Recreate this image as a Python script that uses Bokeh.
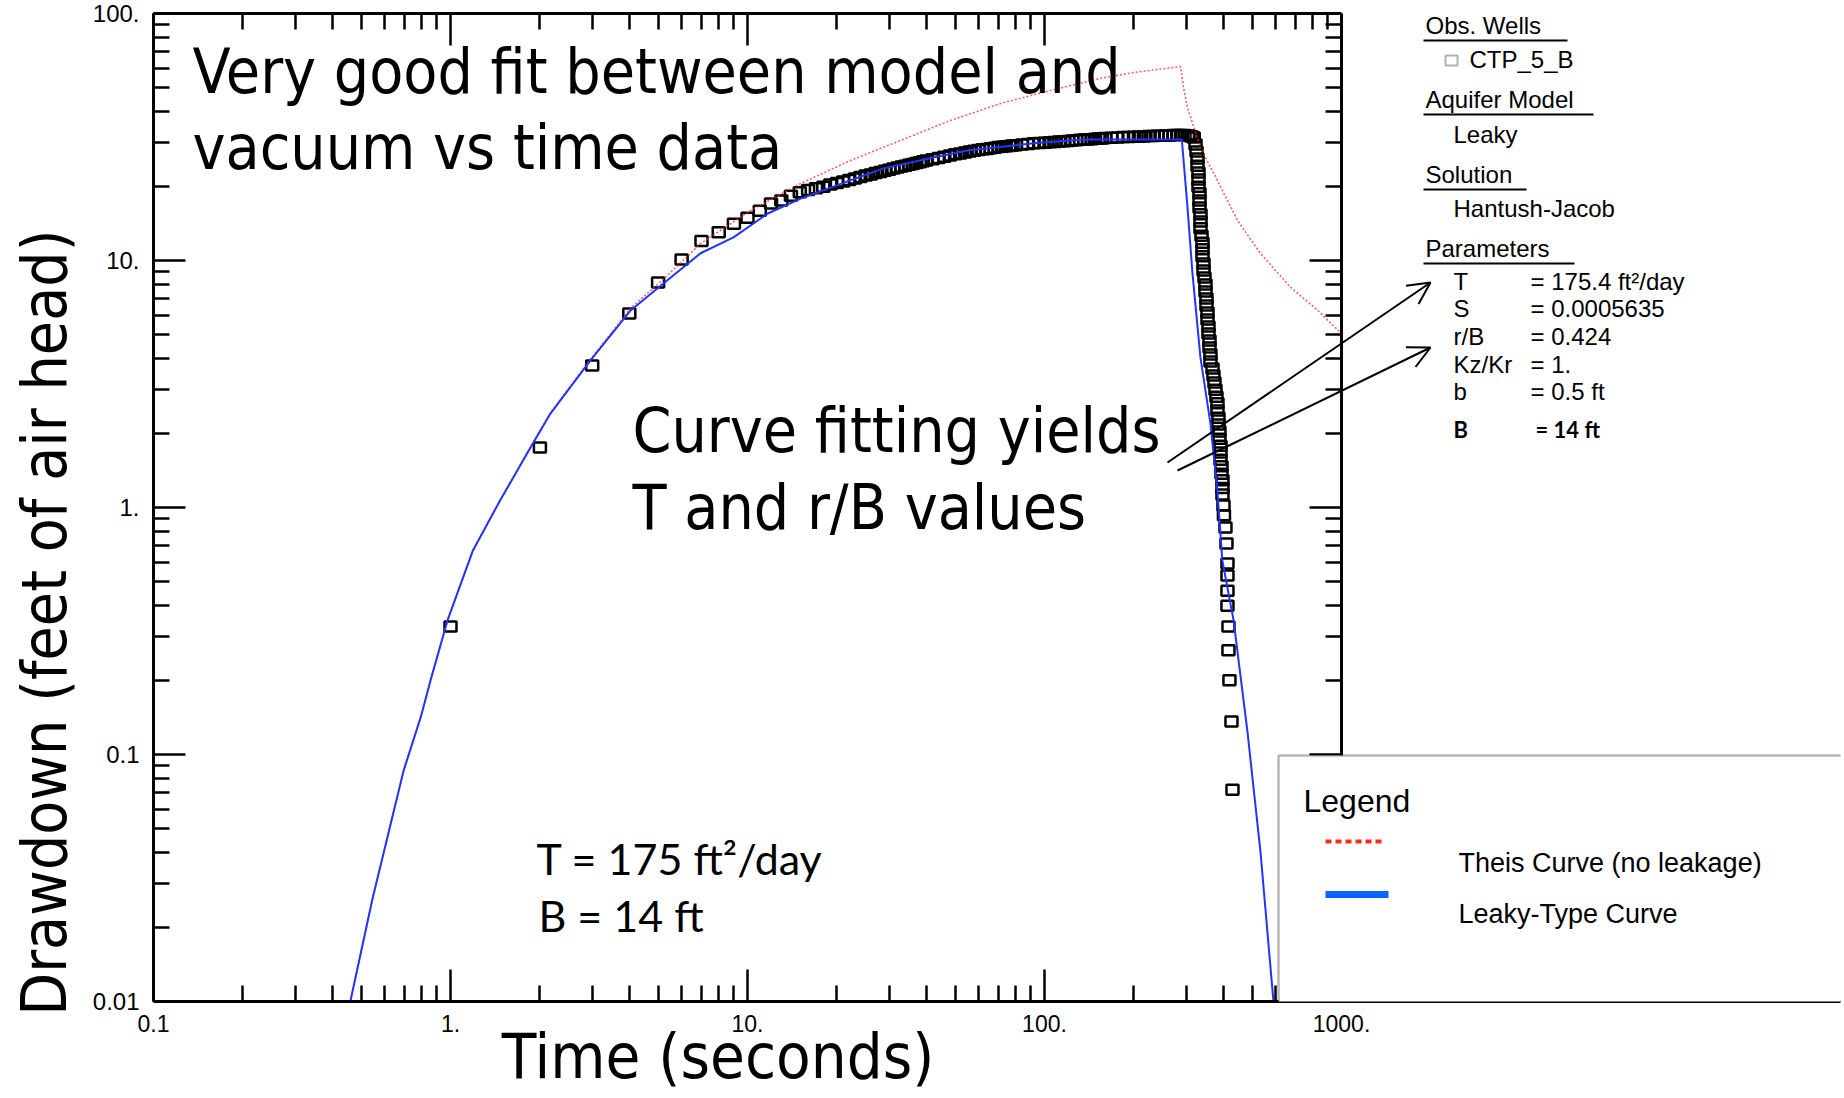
from bokeh.plotting import figure
from bokeh.models import (LogAxis, FixedTicker, Label, BoxAnnotation, Arrow,
                          OpenHead, ColumnDataSource, CustomJSTickFormatter)
from bokeh.embed import file_html
from bokeh.resources import INLINE

# ---------------- data ----------------
x_ticks = [0.1, 1, 10, 100, 1000]
x_tick_labels = ["0.1", "1.", "10.", "100.", "1000."]
y_ticks = [0.01, 0.1, 1, 10, 100]
y_tick_labels = ["0.01", "0.1", "1.", "10.", "100."]

# observed drawdown, well CTP_5_B (time s, drawdown ft)
obs_time = [1, 2, 3, 4, 5, 6, 7, 8, 9, 10, 11, 12, 13, 14, 15,
            16, 17, 18, 19, 20, 21, 22, 23, 24, 25, 26, 27, 28, 29, 30,
            31, 32, 33, 34, 35, 36, 37, 38, 39, 40, 42, 44, 46, 48, 50,
            52, 54, 56, 58, 60, 62, 64, 66, 68, 70, 72, 74, 76, 78, 80,
            84, 88, 92, 96, 100, 104, 108, 112, 116, 120, 124, 128, 132, 136, 140,
            144, 148, 152, 156, 160, 168, 176, 184, 192, 200, 208, 216, 224, 232, 240,
            248, 256, 264, 272, 280, 288, 296, 304, 310, 314,
            318, 322.5, 325, 327.5, 327.5, 330, 330, 330, 332.6, 332.6,
            332.6, 335.2, 335.2, 335.2, 337.8, 340.4, 340.4, 340.4, 343.1, 343.1,
            345.7, 348.4, 348.4, 351.1, 351.1, 353.8, 353.8, 356.6, 356.6, 359.4,
            359.4, 362.1, 362.1, 367.8, 370.6, 373.5, 376.4, 379.3, 382.3, 382.3,
            385.3, 385.3, 388.2, 388.2, 391.3, 391.3, 391.3, 394.4, 394.4, 397.4,
            397.4, 397.4, 400.5, 402, 406.7, 409.9, 413.1, 413.1, 413.1, 413.1,
            416.3, 416.3, 419.5, 426.1, 429.5]
obs_drawdown = [0.33, 1.75, 3.76, 6.1, 8.15, 10.1, 12.0, 13.0, 14.1, 14.9, 15.9, 17.0, 17.5, 18.3, 18.9,
                19.3, 19.6, 19.9, 20.3, 20.6, 20.9, 21.2, 21.5, 21.8, 22.1, 22.3, 22.6, 22.8, 23.1, 23.3,
                23.6, 23.8, 24.0, 24.2, 24.4, 24.6, 24.8, 25.0, 25.2, 25.4, 25.7, 26.0, 26.3, 26.6, 26.9,
                27.1, 27.4, 27.6, 27.8, 28.0, 28.2, 28.3, 28.5, 28.6, 28.8, 28.9, 29.0, 29.1, 29.2, 29.3,
                29.5, 29.6, 29.8, 29.9, 30.0, 30.1, 30.2, 30.3, 30.4, 30.5, 30.6, 30.7, 30.8, 30.9, 30.9,
                31.0, 31.1, 31.2, 31.2, 31.3, 31.4, 31.5, 31.6, 31.6, 31.7, 31.8, 31.8, 31.9, 31.9, 32.0,
                32.0, 32.1, 32.1, 32.2, 32.2, 32.2, 32.2, 32.1, 31.9, 31.7,
                31.5, 29.5, 27.6, 25.9, 24.2, 22.7, 21.3, 19.9, 18.7, 17.5,
                16.4, 15.4, 14.4, 13.5, 12.6, 11.8, 11.1, 10.4, 9.72, 9.11,
                8.54, 8.0, 7.49, 7.02, 6.57, 6.16, 5.77, 5.40, 5.06, 4.74,
                4.44, 4.16, 3.90, 3.65, 3.42, 3.21, 3.00, 2.81, 2.64, 2.47,
                2.31, 2.17, 2.03, 1.90, 1.78, 1.67, 1.56, 1.47, 1.37, 1.29,
                1.20, 1.13, 1.02, 0.93, 0.83, 0.715, 0.593, 0.53, 0.46, 0.40,
                0.33, 0.264, 0.20, 0.136, 0.072]

# Theis curve (no leakage)
theis_time = [0.46, 0.546, 0.695, 0.793, 0.857, 0.977, 1.19, 1.47, 1.86, 2.17, 2.96, 4.04,
              5.21, 6.95, 10.2, 15.1, 22.2, 32.7, 48.3, 71.1, 105, 154, 200, 287,
              294, 303, 335, 382, 447, 533, 673, 829, 1000]
theis_drawdown = [0.01, 0.026, 0.086, 0.141, 0.20, 0.349, 0.67, 1.07, 1.76, 2.42, 3.98, 6.4,
                  8.4, 11.7, 15.9, 20.5, 25.4, 30.6, 36.9, 43.2, 48.8, 54.6, 57.7, 61.0,
                  50.0, 41.6, 28.6, 21.1, 14.5, 10.7, 7.8, 6.3, 5.06]

# Leaky-type curve (Hantush-Jacob)
leaky_time = [0.46, 0.546, 0.695, 0.793, 0.857, 0.977, 1.19, 1.47, 1.86, 2.17, 2.96, 4.04,
              5.21, 6.95, 8.97, 11.7, 15.1, 22.2, 28.7, 42.3, 55.1, 91.8, 135, 200, 290,
              303, 315, 335, 362, 382, 397, 433, 483, 534, 590]
leaky_drawdown = [0.01, 0.026, 0.086, 0.141, 0.20, 0.349, 0.67, 1.07, 1.75, 2.40, 3.94, 6.28,
                  8.07, 10.7, 12.4, 15.5, 17.8, 21.1, 23.6, 26.1, 27.9, 29.8, 30.9, 30.9, 30.9,
                  16.4, 8.85, 4.05, 2.19, 1.17, 0.61, 0.35, 0.122, 0.040, 0.01]

# ---------------- layout helpers ----------------
FL, FR, FT, FB = 153, 1341, 13, 1001   # page pixels of t=0.1, t=1000, s=100, s=0.01
FRAME_RIGHT = 1840                     # frame runs on to the page edge (side panel lives there)


def dx(px):
    return 10 ** (-1 + 4 * (px - FL) / (FR - FL))


def dy(py):
    return 10 ** (2 - 4 * (py - FT) / (FB - FT))


COND = "'DejaVu Sans Condensed', 'DejaVu Sans'"
ARIAL = "'Liberation Sans', Arial"
CALIBRI = "Lato, 'Open Sans'"
BASE_SHIFT = {COND: 0.37, ARIAL: 0.36, CALIBRI: 0.41}

p = figure(width=1844, height=1098, x_axis_type="log", y_axis_type="log",
           x_range=(0.1, dx(FRAME_RIGHT)), y_range=(0.01, 100),
           output_backend="svg", toolbar_location=None,
           min_border_left=FL, min_border_right=1844 - FRAME_RIGHT,
           min_border_top=FT, min_border_bottom=1098 - FB)
p.outline_line_color = None
p.xgrid.visible = False
p.ygrid.visible = False
p.background_fill_color = "white"
p.border_fill_color = "white"

x_minor = [m * 10.0 ** e for e in range(-1, 3) for m in range(2, 10)]
y_minor = [m * 10.0 ** e for e in range(-2, 2) for m in range(2, 10)]

FMT_CODE = """
for (let i = 0; i < tvals.length; i++) {
  if (Math.abs(Math.log10(tvals[i]) - Math.log10(tick)) < 1e-6) return tlabels[i];
}
return "";
"""


def style_axis(ax, ticks, minor, labels=None):
    ax.ticker = FixedTicker(ticks=ticks, minor_ticks=minor)
    ax.axis_line_width = 3
    ax.axis_line_color = "black"
    ax.major_tick_in = 32
    ax.major_tick_out = 0
    ax.minor_tick_in = 16
    ax.minor_tick_out = 0
    ax.major_tick_line_width = 2.5
    ax.minor_tick_line_width = 2.5
    ax.major_tick_line_color = "black"
    ax.minor_tick_line_color = "black"
    if labels is None:
        labels = [""] * len(ticks)
        ax.major_label_text_font_size = "1px"
        ax.major_label_standoff = 0
    ax.formatter = CustomJSTickFormatter(args=dict(tvals=ticks, tlabels=labels),
                                         code=FMT_CODE)


xa = p.xaxis[0]
style_axis(xa, x_ticks, x_minor, x_tick_labels)
xa.major_label_text_font = ARIAL
xa.major_label_text_font_size = "23px"
xa.major_label_text_color = "black"
xa.major_label_standoff = 13
xa.axis_label = "Time (seconds)" + "\u00a0" * 31
xa.axis_label_text_font = COND
xa.axis_label_text_font_size = "63px"
xa.axis_label_text_font_style = "normal"
xa.axis_label_text_color = "black"
xa.axis_label_standoff = -15

ya = p.yaxis[0]
style_axis(ya, y_ticks, y_minor, y_tick_labels)
ya.major_label_text_font = ARIAL
ya.major_label_text_font_size = "24px"
ya.major_label_text_color = "black"
ya.major_label_standoff = 14
ya.axis_label = "Drawdown (feet of air head)" + "\u00a0" * 13
ya.axis_label_text_font = COND
ya.axis_label_text_font_size = "62px"
ya.axis_label_text_font_style = "normal"
ya.axis_label_text_color = "black"
ya.axis_label_standoff = 9

top_ax = LogAxis(bounds=(0.1, 1000))
style_axis(top_ax, x_ticks, x_minor)
p.add_layout(top_ax, "above")
right_ax = LogAxis(fixed_location=1000)
style_axis(right_ax, y_ticks, y_minor)
p.add_layout(right_ax, "right")

# ---------------- data glyphs ----------------
obs_src = ColumnDataSource(dict(t=obs_time, s=obs_drawdown))
p.rect(x="t", y="s", width=12, height=10, width_units="screen", height_units="screen",
       fill_color=None, line_color="black", line_width=2.5, source=obs_src)
p.line(theis_time, theis_drawdown, line_color="#ff2a2a", line_width=1.6,
       line_dash="2 2", line_alpha=0.75)
p.line(leaky_time, leaky_drawdown, line_color="#1f35ff", line_width=2)


# ---------------- annotations ----------------
def lab(text, px, py, size, font, style="normal", level="annotation"):
    y_px = py - BASE_SHIFT[font] * size
    p.add_layout(Label(x=dx(px), y=dy(y_px), text=text, text_font=font,
                       text_font_size=f"{size}px", text_font_style=style,
                       text_color="black", text_align="left",
                       text_baseline="alphabetic", level=level))


def seg(x0, y0, x1, y1, color="black", width=2.0, dash="solid", head=None, level="overlay"):
    p.add_layout(Arrow(x_start=dx(x0), y_start=dy(y0), x_end=dx(x1), y_end=dy(y1),
                       line_color=color, line_width=width, line_dash=dash,
                       end=head, level=level))


lab("Very good fit between model and", 192, 94, 62, COND)
lab("vacuum vs time data", 192, 170, 62, COND)
lab("Curve fitting yields", 632, 453, 62, COND)
lab("T and r/B values", 632, 530, 62, COND)
lab("T = 175 ft\u00b2/day", 536, 876, 43, CALIBRI)
lab("B = 14 ft", 538, 933, 43, CALIBRI)

# right-hand info panel
lab("Obs. Wells", 1425, 34, 24, ARIAL, level="overlay")
seg(1423, 40, 1567, 40, width=1.8)
p.add_layout(BoxAnnotation(left=dx(1445), right=dx(1457), top=dy(55), bottom=dy(65),
                           fill_color="white", fill_alpha=1, line_color="black",
                           line_width=2, level="overlay"))
lab("CTP_5_B", 1469, 68, 24, ARIAL, level="overlay")
lab("Aquifer Model", 1425, 108, 24, ARIAL, level="overlay")
seg(1423, 114, 1593, 114, width=1.8)
lab("Leaky", 1453, 143, 24, ARIAL, level="overlay")
lab("Solution", 1425, 183, 24, ARIAL, level="overlay")
seg(1423, 189, 1526, 189, width=1.8)
lab("Hantush-Jacob", 1453, 217, 24, ARIAL, level="overlay")
lab("Parameters", 1425, 257, 24, ARIAL, level="overlay")
seg(1423, 263, 1574, 263, width=1.8)
param_names = ["T", "S", "r/B", "Kz/Kr", "b"]
param_values = ["= 175.4 ft\u00b2/day", "= 0.0005635", "= 0.424", "= 1.", "= 0.5 ft"]
for i, (nm, vl) in enumerate(zip(param_names, param_values)):
    yy = [290, 317, 345, 373, 400][i]
    lab(nm, 1453, yy, 24, ARIAL, level="overlay")
    lab(vl, 1530, yy, 24, ARIAL, level="overlay")
lab("B", 1453, 438, 22, CALIBRI, style="bold", level="overlay")
lab("= 14 ft", 1535, 438, 22, CALIBRI, style="bold", level="overlay")

# arrows
seg(1167, 462, 1430, 282, width=2, head=OpenHead(size=22, line_width=2, line_color="black"))
seg(1177, 470, 1430, 347, width=2, head=OpenHead(size=22, line_width=2, line_color="black"))

# legend box
p.add_layout(BoxAnnotation(left=dx(1278), right=dx(1900), top=dy(755), bottom=dy(1003),
                           fill_color="white", fill_alpha=1, line_color="#111111",
                           line_width=2.5, level="overlay"))
lab("Legend", 1303, 812, 32, ARIAL, level="overlay")
seg(1325, 841, 1383, 841, color="#ff2a1a", width=4, dash="6 4")
seg(1325, 894, 1388, 894, color="#0a64ff", width=7)
lab("Theis Curve (no leakage)", 1458, 872, 27, ARIAL, level="overlay")
lab("Leaky-Type Curve", 1458, 923, 27, ARIAL, level="overlay")

open("out.html", "w").write(file_html(p, INLINE))
